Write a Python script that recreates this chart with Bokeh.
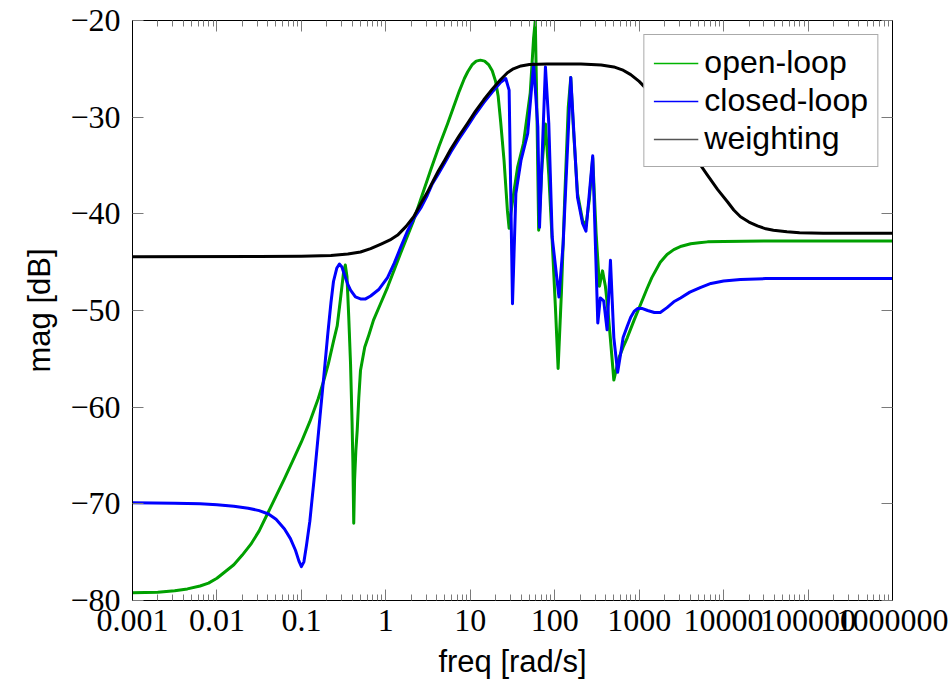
import numpy as np
from bokeh.plotting import figure
from bokeh.models import (LogAxis, LinearAxis, FixedTicker, CustomJSTickFormatter,
                          Legend, LegendItem)
from bokeh.embed import file_html
from bokeh.resources import INLINE

# ---------------- data ----------------
# log10 of frequency [rad/s] and magnitude [dB]
ol_logw = [-3.0, -2.7, -2.5, -2.35, -2.2, -2.1, -2.0, -1.9, -1.8, -1.7, -1.6, -1.5, -1.4,
           -1.3, -1.2, -1.1, -1.0, -0.9, -0.8, -0.74, -0.68, -0.62, -0.576, -0.537, -0.5,
           -0.48, -0.46, -0.44, -0.418, -0.4, -0.39, -0.38, -0.37, -0.355, -0.339, -0.32,
           -0.3, -0.25, -0.2, -0.146, -0.063, 0.02, 0.174, 0.328, 0.53, 0.63, 0.73, 0.8,
           0.87, 0.93, 0.97, 1.02, 1.07, 1.12, 1.17, 1.22, 1.26, 1.3, 1.33, 1.36, 1.4, 1.44,
           1.46, 1.48, 1.52, 1.56, 1.63, 1.71, 1.75, 1.77, 1.79, 1.81, 1.85, 1.89, 1.93,
           1.97, 2.01, 2.04, 2.08, 2.12, 2.16, 2.19, 2.22, 2.27, 2.33, 2.37, 2.41, 2.45,
           2.49, 2.53, 2.566, 2.6, 2.625, 2.66, 2.7, 2.76, 2.81, 2.86, 2.94, 3.02, 3.09,
           3.15, 3.25, 3.33, 3.41, 3.5, 3.61, 3.71, 3.81, 4.0, 4.5, 6.0]
ol_db = [-79.2, -79.15, -79.0, -78.8, -78.5, -78.2, -77.7, -77.0, -76.3, -75.3, -74.2, -72.8, -71.0,
         -69.2, -67.4, -65.5, -63.6, -61.5, -59.1, -57.4, -55.5, -53.2, -51.6, -48.8, -46.0,
         -45.3, -46.5, -50.5, -55.5, -61.5, -65.8, -72.0, -67.5, -64.5, -62.4, -59.0,
         -56.2, -53.8, -52.5, -51.0, -49.3, -47.6, -44.1, -40.7, -35.5, -33.0, -30.7, -29.0,
         -27.3, -26.0, -25.3, -24.6, -24.2, -24.1, -24.2, -24.6, -25.2, -26.3, -27.8, -30.5, -34.5, -39.7,
         -41.5, -40.0, -37.5, -35.2, -32.7, -27.5, -21.8, -20.0, -30.0, -41.7, -35.0, -30.7, -36.0,
         -42.8, -50.0, -56.0, -48.0, -38.0, -29.0, -25.9, -31.0, -37.9, -40.7, -41.2, -38.5, -34.2,
         -42.0, -47.5, -45.9, -47.5, -49.5, -53.0, -57.2, -54.9, -53.8, -52.8, -51.0, -49.3, -47.8,
         -46.6, -45.0, -44.2, -43.7, -43.35, -43.1, -43.0, -42.9, -42.85, -42.8, -42.8]

cl_logw = [-3.0, -2.5, -2.2, -2.0, -1.8, -1.63, -1.5, -1.39, -1.3, -1.2, -1.13, -1.07, -1.03,
           -1.0, -0.97, -0.94, -0.9, -0.85, -0.78, -0.72, -0.687, -0.65, -0.62, -0.58, -0.55,
           -0.52, -0.49, -0.45, -0.418, -0.36, -0.3, -0.24, -0.18, -0.08, 0.02, 0.1, 0.174,
           0.25, 0.33, 0.42, 0.49, 0.55, 0.62, 0.7, 0.77, 0.87, 0.97, 1.06, 1.16, 1.26, 1.36,
           1.42, 1.46, 1.5, 1.54, 1.6, 1.68, 1.75, 1.8, 1.82, 1.89, 1.93, 1.97, 2.05, 2.1,
           2.19, 2.27, 2.33, 2.37, 2.45, 2.51, 2.54, 2.58, 2.62, 2.66, 2.7, 2.745, 2.78, 2.81,
           2.86, 2.9, 2.94, 2.98, 3.04, 3.1, 3.18, 3.25, 3.33, 3.41, 3.49, 3.6, 3.73, 3.85,
           4.0, 4.2, 4.5, 6.0]
cl_db = [-69.9, -69.95, -70.0, -70.1, -70.25, -70.45, -70.7, -71.05, -71.6, -72.6, -73.6, -74.8, -75.9,
         -76.5, -76.0, -74.3, -71.8, -67.5, -61.0, -55.5, -52.4, -49.2, -47.0, -45.6, -45.2,
         -45.5, -46.3, -47.3, -47.9, -48.6, -48.8, -48.8, -48.5, -47.8, -46.6, -45.1, -43.5,
         -41.9, -40.5, -39.3, -38.1, -36.9, -35.9, -34.7, -33.6, -32.2, -30.9, -29.7, -28.5, -27.4, -26.4,
         -26.0, -27.2, -49.3, -37.9, -34.5, -31.7, -24.5, -31.0, -41.4, -24.8, -30.7, -42.4, -48.6, -43.1,
         -25.9, -38.3, -41.0, -41.8, -34.0, -51.3, -48.7, -49.0, -52.0, -44.8, -52.8, -56.4, -54.5, -52.8,
         -51.6, -50.7, -50.1, -49.8, -49.8, -50.0, -50.2, -50.2, -49.7, -49.1, -48.7, -48.1, -47.6, -47.2,
         -46.95, -46.8, -46.7, -46.7]

wt_logw = [-3.0, -1.5, -1.0, -0.65, -0.45, -0.3, -0.18, -0.05, 0.05, 0.14, 0.24, 0.33, 0.41,
           0.49, 0.56, 0.62, 0.7, 0.77, 0.87, 0.97, 1.06, 1.16, 1.26, 1.36, 1.44, 1.51, 1.6,
           1.7, 1.91, 2.31, 2.55, 2.7, 2.8, 2.9, 3.0, 3.1, 3.2, 3.3, 3.4, 3.5, 3.6, 3.69,
           3.8, 3.93, 4.05, 4.12, 4.2, 4.3, 4.4, 4.5, 4.59, 4.75, 4.9, 5.18, 6.0]
wt_db = [-44.45, -44.42, -44.38, -44.3, -44.15, -43.95, -43.6, -43.1, -42.7, -42.2, -41.3, -40.3, -39.0,
         -37.8, -36.6, -35.6, -34.4, -33.3, -31.9, -30.6, -29.4, -28.2, -27.1, -26.1, -25.4, -25.0, -24.7,
         -24.55, -24.5, -24.5, -24.6, -24.8, -25.1, -25.6, -26.3, -27.2, -28.3, -29.6, -30.9, -32.2, -33.4, -34.5,
         -35.9, -37.5, -38.8, -39.6, -40.3, -40.85, -41.25, -41.55, -41.7, -41.85, -41.95, -42.0, -42.0]

series_labels = ["open-loop", "closed-loop", "weighting"]
series_colors = ["#00a000", "#0000ff", "#000000"]
legend_colors = ["#00b400", "#0000ff", "#555555"]

x_major = [1e-3, 1e-2, 1e-1, 1e0, 1e1, 1e2, 1e3, 1e4, 1e5, 1e6]
y_major = [-80, -70, -60, -50, -40, -30, -20]

assert len(ol_logw) == len(ol_db)
assert len(cl_logw) == len(cl_db)
assert len(wt_logw) == len(wt_db)

x_minor = [k * d for d in x_major[:-1] for k in range(2, 10)]

# ---------------- figure ----------------
p = figure(x_axis_type="log", x_range=(1e-3, 1e6), y_range=(-80, -20),
           frame_width=760, frame_height=580,
           min_border_left=132, min_border_right=60, min_border_top=20, min_border_bottom=90,
           output_backend="svg", toolbar_location=None)
p.background_fill_color = "white"
p.border_fill_color = "white"
p.xgrid.visible = False
p.ygrid.visible = False
p.outline_line_color = "black"
p.outline_line_width = 1

tick_col = "#7a7a7a"
serif = "Liberation Serif"
sans = "Liberation Sans"

xa = p.xaxis[0]
xa.ticker = FixedTicker(ticks=x_major, minor_ticks=x_minor)
xa.formatter = CustomJSTickFormatter(
    code="return tick >= 1 ? Math.round(tick).toString() : tick.toPrecision(1);")
ya = p.yaxis[0]
ya.ticker = FixedTicker(ticks=y_major, minor_ticks=[])
ya.formatter = CustomJSTickFormatter(
    code="return tick < 0 ? '\\u2212' + Math.abs(tick) : String(tick);")

for ax in (xa, ya):
    ax.major_tick_in = 11
    ax.major_tick_out = 0
    ax.minor_tick_in = 6
    ax.minor_tick_out = 0
    ax.major_tick_line_color = tick_col
    ax.minor_tick_line_color = tick_col
    ax.axis_line_color = "black"
    ax.major_label_text_font = serif
    ax.major_label_text_font_size = "32px"
    ax.major_label_text_color = "black"
    ax.axis_label_text_font = sans
    ax.axis_label_text_font_size = "31px"
    ax.axis_label_text_font_style = "normal"
    ax.axis_label_text_color = "black"

xa.axis_label = "freq [rad/s]"
xa.major_label_standoff = 9
xa.axis_label_standoff = 10
ya.axis_label = "mag [dB]"
ya.major_label_standoff = 12
ya.axis_label_standoff = 10

# mirrored axes (ticks only) on top and right
top = LogAxis(ticker=FixedTicker(ticks=x_major, minor_ticks=x_minor),
              formatter=CustomJSTickFormatter(code="return '';"))
right = LinearAxis(ticker=FixedTicker(ticks=y_major, minor_ticks=[]),
                   formatter=CustomJSTickFormatter(code="return '';"))
for ax in (top, right):
    ax.major_tick_in = 11
    ax.major_tick_out = 0
    ax.minor_tick_in = 6
    ax.minor_tick_out = 0
    ax.major_tick_line_color = tick_col
    ax.minor_tick_line_color = tick_col
    ax.axis_line_color = "black"
    ax.major_label_text_font_size = "0px"
    ax.major_label_standoff = 0
p.add_layout(top, "above")
p.add_layout(right, "right")

# ---------------- curves ----------------
ol_w = 10.0 ** np.array(ol_logw)
cl_w = 10.0 ** np.array(cl_logw)
wt_w = 10.0 ** np.array(wt_logw)

series = [(ol_w, ol_db), (cl_w, cl_db), (wt_w, wt_db)]
leg_r = []
for (xs, ys), c, lc in zip(series, series_colors, legend_colors):
    # thin copy (hidden under the thick line) that gives the legend its thin sample
    leg_r.append(p.line(xs, ys, color=lc, line_width=1.5))
    p.line(xs, ys, color=c, line_width=3, line_join="round")

legend = Legend(items=[LegendItem(label=l, renderers=[r]) for l, r in zip(series_labels, leg_r)],
                location="top_right")
legend.label_text_font = sans
legend.label_text_font_size = "32px"
legend.label_text_color = "black"
legend.glyph_width = 45
legend.glyph_height = 36
legend.label_height = 36
legend.label_standoff = 6
legend.padding = 9
legend.spacing = 1
legend.margin = 14
legend.border_line_color = "#555555"
legend.border_line_width = 1
legend.background_fill_color = "white"
legend.background_fill_alpha = 1.0
p.add_layout(legend)

open("out.html", "w", encoding="utf-8").write(file_html(p, INLINE))
